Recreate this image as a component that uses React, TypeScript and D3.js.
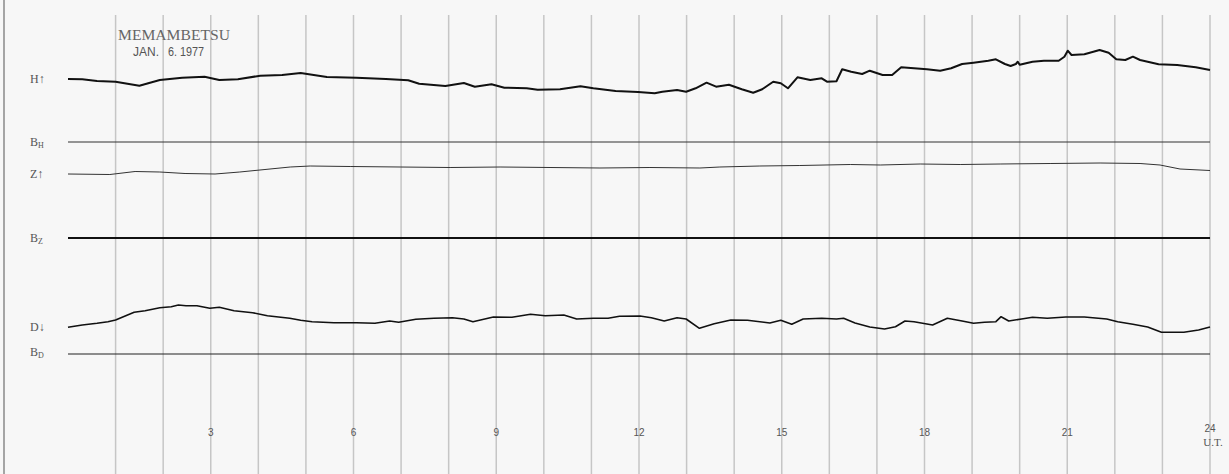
import * as d3 from 'd3';

// magnetogram, Memambetsu, 6 Jan 1977 - hours UT vs trace deflection above its baseline
const hourTicks = [3, 6, 9, 12, 15, 18, 21, 24];
const gridHours = d3.range(1, 25);

const hHours = [0, 0.3, 0.61, 1.0, 1.5, 1.93, 2.4, 2.87, 3.18, 3.57, 4.04, 4.5, 4.89, 5.44, 6.06, 6.68, 7.15, 7.38, 7.93, 8.32, 8.55, 8.9, 9.17, 9.64, 9.87, 10.34, 10.77, 11.04, 11.51, 11.98, 12.33, 12.49, 12.8, 12.99, 13.19, 13.42, 13.62, 13.89, 14.16, 14.4, 14.59, 14.82, 14.98, 15.13, 15.33, 15.6, 15.84, 15.95, 16.15, 16.27, 16.46, 16.69, 16.85, 17.12, 17.32, 17.51, 17.78, 18.05, 18.33, 18.56, 18.79, 19.03, 19.34, 19.5, 19.69, 19.81, 19.92, 19.96, 20.0, 20.27, 20.51, 20.82, 20.94, 21.01, 21.09, 21.36, 21.68, 21.87, 22.03, 22.22, 22.38, 22.53, 22.92, 23.31, 23.7, 24.0];
const hValues = [63, 62.7, 61, 60.3, 56.3, 62, 64.3, 65.3, 62, 62.7, 66.3, 67, 69, 65, 64.3, 63, 61.7, 58.3, 56, 59, 55.3, 57.7, 54.3, 53.7, 52.3, 52.7, 55.7, 53.7, 51, 50, 48.7, 50.3, 52, 50.3, 53.7, 59.3, 55.3, 57.3, 52.7, 49.3, 52.7, 60.3, 58.7, 53.7, 64.7, 62, 63.7, 60.3, 60.7, 72.7, 70.3, 68, 71.3, 67, 67, 74.7, 73.7, 72.7, 71.3, 73.7, 78, 79.3, 81.3, 82.7, 78, 76, 78, 80.3, 77.3, 80.3, 81.3, 81.3, 85.3, 91.3, 87, 87.7, 92, 89.3, 82.7, 82, 85.3, 82, 77.7, 77, 74.7, 72];

const zHours = [0, 0.88, 1.41, 1.93, 2.46, 3.09, 3.61, 4.14, 4.67, 5.09, 5.93, 6.98, 8.03, 9.08, 10.13, 11.18, 12.23, 13.28, 13.7, 14.54, 15.38, 16.44, 17.07, 17.91, 18.75, 19.59, 20.64, 21.69, 22.53, 22.95, 23.37, 24];
const zValues = [64, 63.5, 66.5, 66, 64.5, 64, 66, 68.5, 71, 72, 71.5, 71, 70.5, 71, 70.5, 70, 70.5, 70, 71, 72, 72.5, 73.5, 73, 74, 73.5, 74, 74.5, 75, 74.5, 73, 69, 67.5];

const dHours = [0, 0.3, 0.61, 0.84, 1.0, 1.39, 1.62, 1.93, 2.17, 2.32, 2.48, 2.71, 2.98, 3.18, 3.49, 3.88, 4.19, 4.66, 4.89, 5.13, 5.59, 6.06, 6.45, 6.76, 6.95, 7.31, 7.69, 8.08, 8.32, 8.51, 8.94, 9.33, 9.72, 10.03, 10.42, 10.69, 11.04, 11.35, 11.59, 12.02, 12.26, 12.53, 12.8, 12.99, 13.27, 13.58, 13.93, 14.28, 14.75, 14.98, 15.21, 15.45, 15.84, 16.15, 16.3, 16.54, 16.85, 17.16, 17.39, 17.59, 17.78, 18.17, 18.48, 18.79, 19.03, 19.26, 19.5, 19.61, 19.77, 20.04, 20.27, 20.58, 20.97, 21.36, 21.83, 22.06, 22.38, 22.69, 22.98, 23.45, 23.76, 24.0];
const dValues = [26.7, 29, 30.7, 32.3, 34, 41.7, 43.3, 46.3, 47.3, 49, 48.3, 48.3, 45.7, 46.7, 43.3, 41.3, 38.3, 35.7, 33.7, 32.3, 31.3, 31.3, 30.7, 33, 31.7, 34.7, 35.7, 36.3, 35, 32.3, 37, 36.7, 39.7, 38.3, 39, 35, 35.7, 35.7, 37.7, 38, 36.3, 33, 36.3, 35, 25.7, 30.3, 34, 33.7, 31, 33.7, 29.7, 35, 35.7, 35, 35.7, 31, 27, 25, 27.3, 33, 32.3, 29, 35.7, 33, 30.7, 31.7, 32.3, 37.3, 33, 35, 36.7, 35.7, 37, 37, 35, 32.3, 29.7, 27, 21.7, 21.7, 24, 27];

const W = 1229;
const H = 474;

type Pt = [number, number];
const zip = (xs: number[], ys: number[]): Pt[] => xs.map((x, i) => [x, ys[i]]);

export default function App() {
  const x = d3.scaleLinear().domain([0, 24]).range([68, 1210]);
  // each trace gets its own baseline, 1 unit = 1px above it
  const yH = d3.scaleLinear().domain([0, 100]).range([142, 42]);
  const yZ = d3.scaleLinear().domain([0, 100]).range([238, 138]);
  const yD = d3.scaleLinear().domain([0, 100]).range([354, 254]);

  const mk = (y: d3.ScaleLinear<number, number>) =>
    d3.line<Pt>().x((d) => x(d[0])).y((d) => y(d[1])).curve(d3.curveLinear);

  const lblStyle = { fontFamily: 'Liberation Serif, serif', fontSize: 12, fill: '#555' };

  const base = (label: string, sub: string, y: number) => (
    <text x={30} y={y + 4} style={lblStyle}>
      {label}
      <tspan fontSize={8} dy={2}>{sub}</tspan>
    </text>
  );

  return (
    <svg width={W} height={H} style={{ position: 'absolute', left: 0, top: 0, background: '#f7f7f7' }}>
      <rect x={0} y={0} width={W} height={H} fill="#f7f7f7" />
      <line x1={4} x2={4} y1={0} y2={H} stroke="#8a8a8a" strokeWidth={1.5} />

      {/* hour grid */}
      {gridHours.map((h) => (
        <line key={h} x1={x(h)} x2={x(h)} y1={15} y2={H} stroke="#c6c6c6" strokeWidth={1.5} />
      ))}

      {/* baselines */}
      <line x1={x(0)} x2={x(24)} y1={yH(0)} y2={yH(0)} stroke="#333" strokeWidth={1.2} />
      <line x1={x(0)} x2={x(24)} y1={yZ(0)} y2={yZ(0)} stroke="#111" strokeWidth={2} />
      <line x1={x(0)} x2={x(24)} y1={yD(0)} y2={yD(0)} stroke="#222" strokeWidth={1.2} />

      {/* traces */}
      <path d={mk(yH)(zip(hHours, hValues)) || ''} fill="none" stroke="#111" strokeWidth={2} strokeLinejoin="round" />
      <path d={mk(yZ)(zip(zHours, zValues)) || ''} fill="none" stroke="#333" strokeWidth={1} strokeLinejoin="round" />
      <path d={mk(yD)(zip(dHours, dValues)) || ''} fill="none" stroke="#111" strokeWidth={1.6} strokeLinejoin="round" />

      {/* left labels */}
      <text x={30} y={yH(63) + 4} style={lblStyle}>H↑</text>
      {base('B', 'H', yH(0))}
      <text x={30} y={yZ(64) + 4} style={lblStyle}>Z↑</text>
      {base('B', 'Z', yZ(0))}
      <text x={30} y={yD(27) + 4} style={lblStyle}>D↓</text>
      {base('B', 'D', yD(2))}

      {/* station / date */}
      <text x={118} y={40} textLength={112} lengthAdjust="spacingAndGlyphs"
        style={{ fontFamily: 'Liberation Serif, serif', fontSize: 14, fill: '#666' }}>MEMAMBETSU</text>
      <text x={133} y={56} style={{ fontFamily: 'Liberation Sans, sans-serif', fontSize: 12, fill: '#555' }}>JAN.</text>
      <text x={168} y={56} textLength={36} lengthAdjust="spacingAndGlyphs"
        style={{ fontFamily: 'Liberation Sans, sans-serif', fontSize: 12, fill: '#555' }}>6. 1977</text>

      {/* hour labels */}
      {hourTicks.map((h) => (
        <text key={h} x={x(h)} y={h === 24 ? 432 : 436} textAnchor="middle"
          style={{ fontFamily: 'Liberation Sans, sans-serif', fontSize: 10, fill: '#555' }}>{h}</text>
      ))}
      <text x={x(24) + 3} y={446} textAnchor="middle"
        style={{ fontFamily: 'Liberation Serif, serif', fontSize: 11, fill: '#555' }}>U.T.</text>
    </svg>
  );
}
